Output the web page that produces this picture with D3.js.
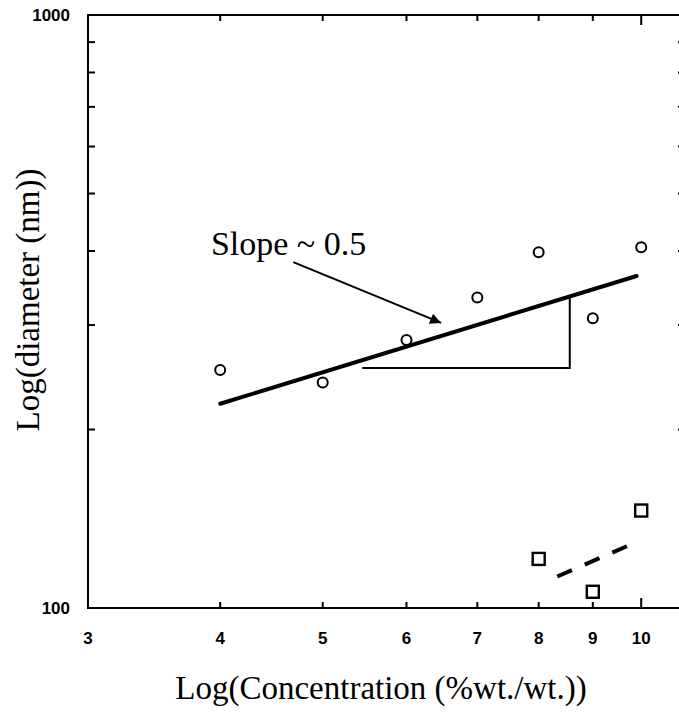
<!DOCTYPE html>
<html>
<head>
<meta charset="utf-8">
<script src="https://cdn.jsdelivr.net/npm/d3@7"></script>
<style>
  html, body { margin: 0; padding: 0; background: #fff; }
  svg { display: block; }
</style>
</head>
<body>
<svg id="chart" width="679" height="714"></svg>
<script>
// Concentration (%wt./wt.) and measured diameters (nm)
const circleConc = [4, 5, 6, 7, 8, 9, 10];
const circleDiam = [252, 240, 283, 334, 398, 308, 406];
const squareConc = [8, 9, 10];
const squareDiam = [121, 106.5, 146];

// Power-law fit through the circles (slope ~ 0.5) and the squares
const fitConc = [4.0, 9.9];
const fitDiam = [221, 363];
const dashConc = [8.33, 9.88];
const dashDiam = [113, 129];

// Slope triangle: horizontal leg, vertical leg up to the fit line
const triConc = [5.45, 8.56, 8.56];
const triDiam = [254, 254, 335];

// Annotation arrow (start, end) and its label
const arrowConc = [4.69, 6.47];
const arrowDiam = [383, 302.5];
const slopeLabel = "Slope ~ 0.5";
const slopeLabelConc = 3.92;
const slopeLabelDiam = 394;

// Axis ticks
const xTicks = [3, 4, 5, 6, 7, 8, 9, 10];
const yMinorTicks = [200, 300, 400, 500, 600, 700, 800, 900];
const yLabelTicks = [100, 1000];
const xTitle = "Log(Concentration (%wt./wt.))";
const yTitle = "Log(diameter (nm))";

const svg = d3.select("#chart");
const plotLeft = 88, plotRight = 685, plotTop = 15, plotBottom = 608;

const x = d3.scaleLog().domain([3, 11]).range([plotLeft, plotRight]);
const y = d3.scaleLog().domain([100, 1000]).range([plotBottom, plotTop]);

const ink = "#000";
const tickFont = "'Liberation Sans', Arial, sans-serif";
const serif = "'Liberation Serif', 'Times New Roman', serif";

// Frame
svg.append("rect")
  .attr("x", plotLeft).attr("y", plotTop)
  .attr("width", plotRight - plotLeft).attr("height", plotBottom - plotTop)
  .attr("fill", "none").attr("stroke", ink).attr("stroke-width", 2);

// X ticks: bottom and top, pointing inward; the decade tick is longer
const xInner = xTicks.filter(d => d > 3);
const tickLen = d => (d === 10 ? 10 : 6);
svg.append("g").selectAll("line").data(xInner).join("line")
  .attr("x1", d => x(d)).attr("x2", d => x(d))
  .attr("y1", plotBottom).attr("y2", d => plotBottom - tickLen(d))
  .attr("stroke", ink).attr("stroke-width", 2);
svg.append("g").selectAll("line").data(xInner).join("line")
  .attr("x1", d => x(d)).attr("x2", d => x(d))
  .attr("y1", plotTop).attr("y2", d => plotTop + tickLen(d))
  .attr("stroke", ink).attr("stroke-width", 2);

// Y ticks: left and right, pointing inward
svg.append("g").selectAll("line").data(yMinorTicks).join("line")
  .attr("x1", plotLeft).attr("x2", plotLeft + 7)
  .attr("y1", d => y(d)).attr("y2", d => y(d))
  .attr("stroke", ink).attr("stroke-width", 2);
svg.append("g").selectAll("line").data(yMinorTicks).join("line")
  .attr("x1", plotRight).attr("x2", plotRight - 7)
  .attr("y1", d => y(d)).attr("y2", d => y(d))
  .attr("stroke", ink).attr("stroke-width", 2);

// Tick labels
svg.append("g").selectAll("text").data(xTicks).join("text")
  .attr("x", d => x(d)).attr("y", 644)
  .attr("text-anchor", "middle")
  .attr("font-family", tickFont).attr("font-size", 17).attr("font-weight", "bold")
  .attr("fill", ink)
  .text(d => d);
svg.append("g").selectAll("text").data(yLabelTicks).join("text")
  .attr("x", 70).attr("y", d => y(d) + 6)
  .attr("text-anchor", "end")
  .attr("font-family", tickFont).attr("font-size", 17).attr("font-weight", "bold")
  .attr("fill", ink)
  .text(d => d);

// Axis titles
svg.append("text")
  .attr("x", 381).attr("y", 699)
  .attr("text-anchor", "middle")
  .attr("font-family", serif).attr("font-size", 33)
  .attr("fill", ink)
  .text(xTitle);
svg.append("text")
  .attr("transform", "translate(39,300) rotate(-90)")
  .attr("text-anchor", "middle")
  .attr("font-family", serif).attr("font-size", 33)
  .attr("fill", ink)
  .text(yTitle);

const line = d3.line().x(d => x(d[0])).y(d => y(d[1]));

// Fit line through the circles
svg.append("path")
  .attr("d", line(d3.zip(fitConc, fitDiam)))
  .attr("fill", "none").attr("stroke", ink).attr("stroke-width", 4)
  .attr("stroke-linecap", "round");

// Slope triangle
svg.append("path")
  .attr("d", line(d3.zip(triConc, triDiam)))
  .attr("fill", "none").attr("stroke", ink).attr("stroke-width", 2);

// Dashed fit through the squares
svg.append("path")
  .attr("d", line(d3.zip(dashConc, dashDiam)))
  .attr("fill", "none").attr("stroke", ink).attr("stroke-width", 4)
  .attr("stroke-dasharray", "16 14");

// Circles
svg.append("g").selectAll("circle").data(d3.zip(circleConc, circleDiam)).join("circle")
  .attr("cx", d => x(d[0])).attr("cy", d => y(d[1]))
  .attr("r", 5)
  .attr("fill", "none").attr("stroke", ink).attr("stroke-width", 2);

// Squares
const sq = 12;
svg.append("g").selectAll("rect").data(d3.zip(squareConc, squareDiam)).join("rect")
  .attr("x", d => x(d[0]) - sq / 2).attr("y", d => y(d[1]) - sq / 2)
  .attr("width", sq).attr("height", sq)
  .attr("fill", "none").attr("stroke", ink).attr("stroke-width", 2.4);

// Arrow with label
svg.append("defs").append("marker")
  .attr("id", "head")
  .attr("viewBox", "0 0 10 10")
  .attr("refX", 10).attr("refY", 5)
  .attr("markerWidth", 16).attr("markerHeight", 11)
  .attr("markerUnits", "userSpaceOnUse")
  .attr("orient", "auto")
  .append("path").attr("d", "M0,0 L10,5 L0,10 Z").attr("fill", ink);

svg.append("path")
  .attr("d", line(d3.zip(arrowConc, arrowDiam)))
  .attr("fill", "none").attr("stroke", ink).attr("stroke-width", 2)
  .attr("marker-end", "url(#head)");

svg.append("text")
  .attr("x", x(slopeLabelConc)).attr("y", y(slopeLabelDiam))
  .attr("font-family", serif).attr("font-size", 34)
  .attr("fill", ink)
  .text(slopeLabel);
</script>
</body>
</html>
